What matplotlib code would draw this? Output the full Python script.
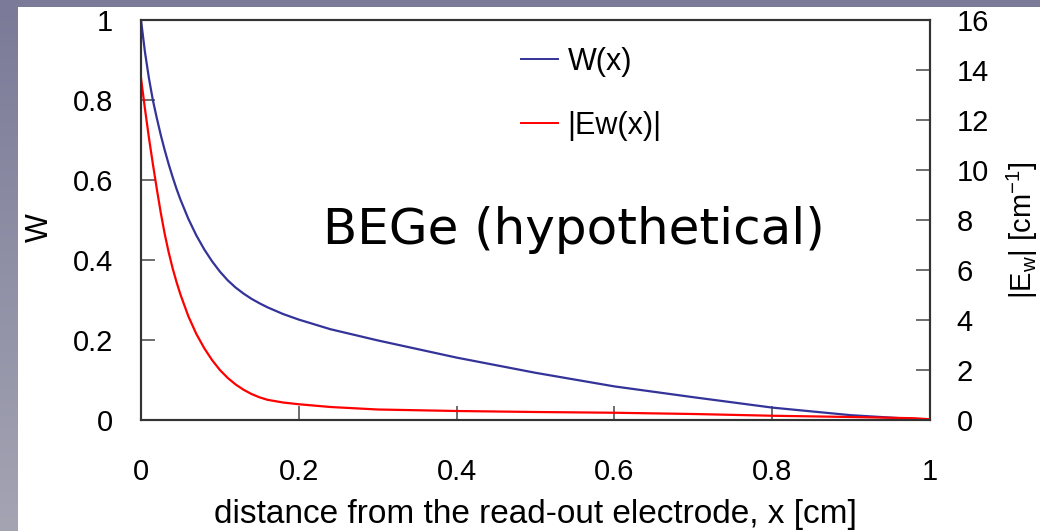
import numpy as np
import matplotlib
matplotlib.use("Agg")
import matplotlib.pyplot as plt
from matplotlib.ticker import FixedLocator, FuncFormatter

plt.rcParams['font.family'] = ['Liberation Sans', 'DejaVu Sans']
plt.rcParams['mathtext.fontset'] = 'custom'
plt.rcParams['mathtext.rm'] = 'Liberation Sans'
plt.rcParams['mathtext.it'] = 'Liberation Sans'

# ---- data ----
x_W = [0, 0.005, 0.01, 0.015, 0.02, 0.025, 0.03, 0.035, 0.04, 0.045, 0.05,
       0.06, 0.07, 0.08, 0.09, 0.1, 0.11, 0.12, 0.13, 0.14, 0.15, 0.16, 0.18,
       0.2, 0.24, 0.3, 0.4, 0.5, 0.6, 0.7, 0.8, 0.9, 1.0]
W = [1.0, 0.92, 0.855, 0.80, 0.755, 0.713, 0.675, 0.64, 0.608, 0.578, 0.551,
     0.503, 0.462, 0.427, 0.397, 0.371, 0.349, 0.331, 0.316, 0.303, 0.292,
     0.282, 0.265, 0.251, 0.227, 0.199, 0.156, 0.118, 0.084, 0.057, 0.031,
     0.012, 0.0]

x_E = [0, 0.005, 0.01, 0.015, 0.02, 0.025, 0.03, 0.035, 0.04, 0.045, 0.05,
       0.06, 0.07, 0.08, 0.09, 0.1, 0.11, 0.12, 0.13, 0.14, 0.15, 0.16, 0.18,
       0.2, 0.24, 0.3, 0.4, 0.5, 0.6, 0.7, 0.8, 0.9, 0.98, 1.0]
E = [13.67, 12.45, 11.3, 10.25, 9.25, 8.3, 7.45, 6.72, 6.08, 5.52, 5.02,
     4.15, 3.45, 2.88, 2.4, 2.0, 1.68, 1.42, 1.21, 1.04, 0.91, 0.81, 0.7,
     0.63, 0.52, 0.42, 0.36, 0.32, 0.29, 0.24, 0.17, 0.12, 0.07, 0.03]

x_ticks = [0, 0.2, 0.4, 0.6, 0.8, 1]
w_ticks = [0, 0.2, 0.4, 0.6, 0.8, 1]
e_ticks = [0, 2, 4, 6, 8, 10, 12, 14, 16]

W_color = '#333399'
E_color = '#ff0000'

fig = plt.figure(figsize=(10.4, 5.31), dpi=100, facecolor='white')

# slide-style border: top band and left gradient band
band_top = fig.add_axes([0, 1 - 7 / 531, 1, 7 / 531])
band_top.set_axis_off()
band_top.add_patch(plt.Rectangle((0, 0), 1, 1, color='#7b7b99', transform=band_top.transAxes))
band_left = fig.add_axes([0, 0, 18 / 1040, 1 - 7 / 531])
band_left.set_axis_off()
c0 = np.array([0x7b, 0x7b, 0x99]) / 255
c1 = np.array([0xa4, 0xa4, 0xb3]) / 255
t = np.linspace(0, 1, 256)[:, None]
grad = (c0[None, :] * (1 - t) + c1[None, :] * t)[:, None, :]
band_left.imshow(grad, aspect='auto', extent=[0, 1, 0, 1])

ax = fig.add_axes([141 / 1040, 111 / 531, 789 / 1040, 400 / 531])
ax2 = ax.twinx()

l1, = ax.plot(x_W, W, color=W_color, lw=1.6, label='W(x)')
l2, = ax2.plot(x_E, E, color=E_color, lw=1.6, label='|Ew(x)|')

ax.set_xlim(0, 1)
ax.set_ylim(0, 1)
ax2.set_ylim(0, 16)

fmt = FuncFormatter(lambda v, p: ('%g' % v))
ax.xaxis.set_major_locator(FixedLocator(x_ticks))
ax.yaxis.set_major_locator(FixedLocator(w_ticks))
ax2.yaxis.set_major_locator(FixedLocator(e_ticks))
ax.xaxis.set_major_formatter(fmt)
ax.yaxis.set_major_formatter(fmt)
ax2.yaxis.set_major_formatter(fmt)

for a in (ax, ax2):
    for s in a.spines.values():
        s.set_color('#333333')
        s.set_linewidth(1.5)

ax.tick_params(axis='x', direction='in', length=10, width=1.2, color='#555555',
               labelsize=21, pad=27)
ax.tick_params(axis='y', direction='in', length=10, width=1.2, color='#555555',
               labelsize=21, pad=20)
ax2.tick_params(axis='y', direction='in', length=10, width=1.2, color='#555555',
                labelsize=21, pad=19)

ax.set_xlabel('distance from the read-out electrode, x [cm]', fontsize=24)
ax.xaxis.set_label_coords(0.5, (420 - 514) / 400)
ax.xaxis.label.set_va('center')

ax.set_ylabel('W', fontsize=22)
ax.yaxis.set_label_coords((40 - 141) / 789, (420 - 228) / 400)
ax.yaxis.label.set_va('center')

ax2.set_ylabel(r'|E$_{\mathrm{w}}$| [cm$^{\mathrm{-1}}$]', fontsize=21)
ax2.yaxis.set_label_coords((1022 - 141) / 789, (420 - 230) / 400)
ax2.yaxis.label.set_va('center')

ax.text((323 - 141) / 789, (420 - 230) / 400, 'BEGe (hypothetical)',
        transform=ax.transAxes, fontsize=36, family=['DejaVu Sans'],
        ha='left', va='center')

leg = ax.legend([l1, l2], ['W(x)', '|Ew(x)|'], loc='upper left',
                bbox_to_anchor=((521 - 141) / 789, (420 - 47) / 400),
                frameon=False, fontsize=22, handlelength=1.2,
                handletextpad=0.33, labelspacing=1.1, borderpad=0,
                borderaxespad=0)
for h in leg.get_lines():
    h.set_linewidth(1.4)

fig.savefig('out.png', dpi=100, facecolor='white')
